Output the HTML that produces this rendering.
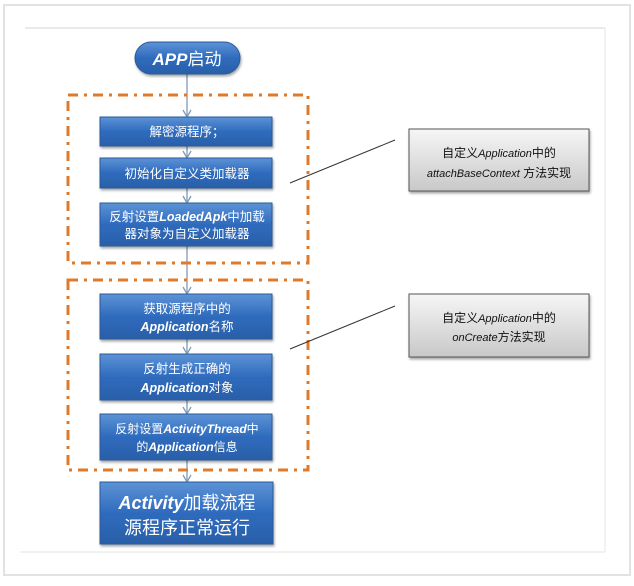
<!DOCTYPE html>
<html><head><meta charset="utf-8"><style>
html,body{margin:0;padding:0;background:#fff;}
svg text{font-family:"Liberation Sans","Noto Sans CJK SC",sans-serif;}
</style></head><body>
<svg width="634" height="581" viewBox="0 0 634 581" xmlns="http://www.w3.org/2000/svg">
<defs>
<linearGradient id="bl" x1="0" y1="0" x2="0" y2="1">
<stop offset="0" stop-color="#5d93d6"/><stop offset="0.5" stop-color="#2f6bbd"/><stop offset="1" stop-color="#2a5fa8"/>
</linearGradient>
<linearGradient id="gr" x1="0" y1="0" x2="0" y2="1">
<stop offset="0" stop-color="#f6f6f6"/><stop offset="1" stop-color="#c8c8c8"/>
</linearGradient>
<filter id="sh" x="-10%" y="-10%" width="130%" height="140%"><feDropShadow dx="1" dy="2" stdDeviation="1.2" flood-color="#000" flood-opacity="0.35"/></filter>
</defs>
<rect x="4" y="5" width="626" height="570" fill="#fff" stroke="#e2e2e2" stroke-width="2"/>
<line x1="25" y1="28" x2="605" y2="28" stroke="#e4e4e4" stroke-width="1.5"/>
<line x1="605" y1="28" x2="605" y2="552" stroke="#e4e4e4" stroke-width="1"/>
<line x1="20" y1="552" x2="605" y2="552" stroke="#e4e4e4" stroke-width="1"/>
<!-- connector arrows -->
<g stroke="#7f9ab8" stroke-width="1.3" fill="none">
<line x1="187" y1="74" x2="187" y2="482"/>
</g>
<g stroke="#7f9ab8" stroke-width="1.3" fill="none">
<polyline points="183,110 187,117 191,110"/>
<polyline points="183,151 187,158 191,151"/>
<polyline points="183,196 187,203 191,196"/>
<polyline points="183,287 187,294 191,287"/>
<polyline points="183,347 187,354 191,347"/>
<polyline points="183,407 187,414 191,407"/>
<polyline points="183,475 187,482 191,475"/>
</g>
<!-- dashed boxes -->
<g stroke="#e0792a" stroke-width="3" fill="none" stroke-dasharray="10,6,3,6">
<rect x="68" y="95" width="240" height="168"/>
<rect x="68" y="280" width="240" height="190"/>
</g>
<!-- pill -->
<rect x="135" y="42" width="105" height="32" rx="16" fill="url(#bl)" stroke="#2a5a9a" filter="url(#sh)"/>
<text x="187" y="65" text-anchor="middle" fill="#fff" font-size="17"><tspan font-style="italic" font-weight="bold">APP</tspan>启动</text>
<!-- boxes -->
<g fill="url(#bl)" stroke="#2a5a9a" filter="url(#sh)">
<rect x="100" y="117" width="172" height="29"/>
<rect x="100" y="158" width="172" height="30"/>
<rect x="100" y="203" width="172" height="43"/>
<rect x="100" y="294" width="172" height="45"/>
<rect x="100" y="354" width="172" height="46"/>
<rect x="100" y="414" width="172" height="46"/>
<rect x="100" y="482" width="173" height="62"/>
</g>
<g fill="#fff" font-size="12.5" text-anchor="middle">
<text x="187" y="136">解密源程序；</text>
<text x="187" y="178">初始化自定义类加载器</text>
<text x="187" y="221">反射设置<tspan font-style="italic" font-weight="bold">LoadedApk</tspan>中加载</text>
<text x="187" y="238">器对象为自定义加载器</text>
<text x="187" y="313">获取源程序中的</text>
<text x="187" y="331"><tspan font-style="italic" font-weight="bold">Application</tspan>名称</text>
<text x="187" y="373">反射生成正确的</text>
<text x="187" y="392"><tspan font-style="italic" font-weight="bold">Application</tspan>对象</text>
<text x="187" y="433" font-size="12">反射设置<tspan font-style="italic" font-weight="bold">ActivityThread</tspan>中</text>
<text x="187" y="451" font-size="12">的<tspan font-style="italic" font-weight="bold">Application</tspan>信息</text>
<text x="187" y="509" font-size="18"><tspan font-style="italic" font-weight="bold">Activity</tspan>加载流程</text>
<text x="187" y="534" font-size="18">源程序正常运行</text>
</g>
<!-- callouts -->
<line x1="290" y1="183" x2="395" y2="140" stroke="#333" stroke-width="1"/>
<line x1="290" y1="349" x2="395" y2="306" stroke="#333" stroke-width="1"/>
<g fill="url(#gr)" stroke="#555" filter="url(#sh)">
<rect x="409" y="129" width="180" height="62"/>
<rect x="409" y="294" width="180" height="63"/>
</g>
<g fill="#111" font-size="12" text-anchor="middle">
<text x="499" y="157">自定义<tspan font-style="italic" font-size="11">Application</tspan>中的</text>
<text x="499" y="177"><tspan font-style="italic" font-size="11">attachBaseContext</tspan> 方法实现</text>
<text x="499" y="322">自定义<tspan font-style="italic" font-size="11">Application</tspan>中的</text>
<text x="499" y="341"><tspan font-style="italic" font-size="11">onCreate</tspan>方法实现</text>
</g>
</svg>
</body></html>
